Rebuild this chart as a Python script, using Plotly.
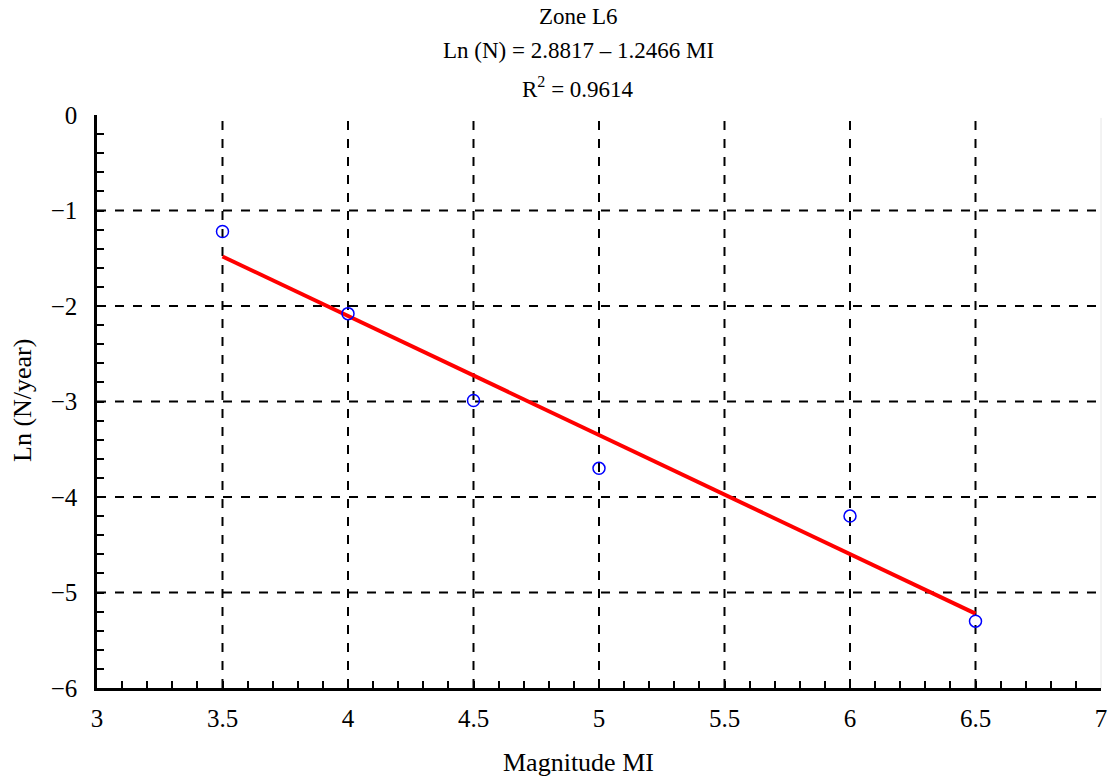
import plotly.graph_objects as go

magnitude = [3.5, 4.0, 4.5, 5.0, 6.0, 6.5]
ln_n = [-1.22, -2.08, -2.99, -3.70, -4.20, -5.30]

# Regression from title
intercept = 2.8817
slope = -1.2466
fit_x = [3.5, 6.5]
fit_y = [intercept + slope * x for x in fit_x]

title_lines = ["Zone L6", "Ln (N) = 2.8817 – 1.2466 MI", "R<sup>2</sup> = 0.9614"]
x_ticks = [3, 3.5, 4, 4.5, 5, 5.5, 6, 6.5, 7]
y_ticks = [0, -1, -2, -3, -4, -5, -6]
x_grid = [3.5, 4, 4.5, 5, 5.5, 6, 6.5]
y_grid = [-1, -2, -3, -4, -5]

FONT = "Liberation Serif"
L, R, T, B = 97, 11, 115, 89
W, H = 1112, 777
PW, PH = W - L - R, H - T - B


def px_x(px):
    return (px - L) / PW


def px_y(py):
    return (H - B - py) / PH


fig = go.Figure()
fig.add_trace(go.Scatter(x=fit_x, y=fit_y, mode="lines",
                         line=dict(color="#ff0000", width=4), showlegend=False))
fig.add_trace(go.Scatter(x=magnitude, y=ln_n, mode="markers",
                         marker=dict(symbol="circle-open", size=12, color="#0000ff",
                                     line=dict(width=1.5, color="#0000ff")),
                         showlegend=False))

shapes = []
for gx in x_grid:
    shapes.append(dict(type="line", xref="x", yref="y", x0=gx, x1=gx, y0=-6, y1=0,
                       line=dict(color="black", width=2, dash="dash"), layer="below"))
for gy in y_grid:
    shapes.append(dict(type="line", xref="x", yref="y", x0=3, x1=7, y0=gy, y1=gy,
                       line=dict(color="black", width=2, dash="dash"), layer="below"))
shapes.append(dict(type="line", xref="paper", yref="paper", x0=1, x1=1, y0=0, y1=0.995,
                   line=dict(color="#e6e6e6", width=1)))

ann_py = [16, 51, 87]
annotations = [dict(text=t, xref="paper", yref="paper", x=px_x(578), y=px_y(py),
                    xanchor="center", yanchor="middle", showarrow=False,
                    font=dict(family=FONT, size=23, color="black"))
               for t, py in zip(title_lines, ann_py)]
annotations.append(dict(text="Magnitude MI", xref="paper", yref="paper",
                        x=px_x(578), y=px_y(762), xanchor="center", yanchor="middle",
                        showarrow=False, font=dict(family=FONT, size=26, color="black")))
annotations.append(dict(text="Ln (N/year)", xref="paper", yref="paper", textangle=-90,
                        x=px_x(22), y=px_y(401), xanchor="center", yanchor="middle",
                        showarrow=False, font=dict(family=FONT, size=26, color="black")))

fig.update_layout(
    width=W, height=H,
    margin=dict(l=L, r=R, t=T, b=B),
    paper_bgcolor="white", plot_bgcolor="white",
    font=dict(family=FONT, size=25, color="black"),
    shapes=shapes, annotations=annotations,
)
fig.update_xaxes(range=[3, 7], tickvals=x_ticks, ticktext=[f"{v:g}" for v in x_ticks],
                 showgrid=False, zeroline=False, automargin=False,
                 showline=True, linecolor="black", linewidth=2.5,
                 ticks="inside", ticklen=7, tickwidth=2, tickcolor="black",
                 ticklabelstandoff=6,
                 minor=dict(ticks="inside", dtick=0.1, ticklen=7, tickwidth=2, tickcolor="black", showgrid=False))
fig.update_yaxes(range=[-6, 0], tickvals=y_ticks, ticktext=[f"{v:g}".replace("-", "−") for v in y_ticks],
                 showgrid=False, zeroline=False, automargin=False,
                 showline=True, linecolor="black", linewidth=2.5,
                 ticks="inside", ticklen=7, tickwidth=2, tickcolor="black",
                 ticklabelstandoff=12,
                 minor=dict(ticks="inside", dtick=0.2, ticklen=7, tickwidth=2, tickcolor="black", showgrid=False))

fig.write_html("out.html", config={"displayModeBar": False},
               post_script="document.body.style.margin='0';document.body.style.overflow='hidden';")
